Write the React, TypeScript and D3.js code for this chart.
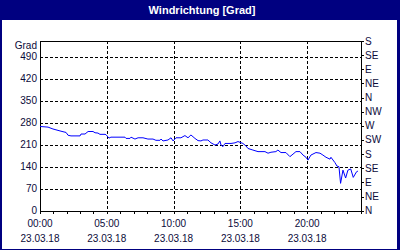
import React from "react";
import * as d3 from "d3";

const title = "Windrichtung [Grad]";
const yUnit = "Grad";
const dateLabel = "23.03.18";
const xTickHours = [0, 5, 10, 15, 20];
const yTicks = [0, 70, 140, 210, 280, 350, 420, 490];
const compassTicks = [0, 45, 90, 135, 180, 225, 270, 315, 360, 405, 450, 495, 540];
const compassLabels = ["N", "NE", "E", "SE", "S", "SW", "W", "NW", "N", "NE", "E", "SE", "S"];

const hours = [
  0, 0.6, 0.97, 1.57, 1.95, 2.1, 2.32, 3.0, 3.07, 3.37, 3.6, 3.97, 4.12, 4.34, 4.49, 4.87, 4.94,
  5.16, 5.31, 5.99, 6.36, 6.44, 6.74, 6.81, 7.11, 7.34, 7.71, 8.08, 8.46, 8.68, 8.98, 9.06, 9.21,
  9.58, 9.81, 9.96, 10.18, 10.55, 10.85, 11.08, 11.3, 11.6, 11.83, 12.05, 12.2, 12.57, 12.8, 13.1,
  13.32, 13.47, 13.55, 13.7, 13.85, 14.3, 14.6, 14.82, 15.19, 15.42, 15.57, 15.94, 16.32, 16.84,
  17.07, 17.29, 17.66, 17.81, 18.04, 18.41, 18.71, 18.94, 19.16, 19.46, 19.69, 19.91, 20.06, 20.28,
  20.66, 20.96, 21.18, 21.41, 21.71, 21.78, 22.08, 22.23, 22.38, 22.5, 22.68, 22.88, 23.05, 23.26,
  23.45, 23.7, 23.8,
];
const values = [
  268, 266, 260, 253, 249, 240, 238, 238, 244, 244, 252, 252, 248, 247, 243, 243, 242,
  231, 234, 234, 234, 230, 230, 234, 228, 232, 232, 228, 228, 224, 224, 228, 222,
  225, 232, 222, 232, 232, 239, 232, 241, 230, 223, 222, 225, 225, 216, 209,
  212, 222, 209, 204, 214, 214, 216, 220, 214, 206, 198, 193, 188, 188,
  183, 186, 188, 193, 185, 185, 172, 180, 188, 188, 177, 170, 161, 177,
  185, 183, 177, 170, 164, 170, 153, 142, 140, 87, 129, 104, 129, 133,
  106, 124, 126,
];

const W = 400;
const H = 250;
const m = { left: 40, top: 41, right: 360.6, bottom: 210.7 };
const navy = "#000080";
const textColor = "#0b0b3a";
const font = "'Liberation Sans', Arial, sans-serif";

export default function App() {
  const x = d3.scaleLinear().domain([0, 24]).range([m.left, m.right]);
  const y = d3.scaleLinear().domain([0, 540]).range([m.bottom, m.top]);
  const line = d3
    .line<number>()
    .x((_, i) => x(hours[i]))
    .y((v) => y(v));
  const hourTicks = d3.range(0, 25);
  const px = (v: number) => Math.round(v) + 0.5;

  return (
    <svg
      width={W}
      height={H}
      style={{ position: "absolute", left: 0, top: 0, display: "block" }}
      fontFamily={font}
    >
      <rect x={0} y={0} width={W} height={H} fill={navy} />
      <rect x={2} y={20} width={W - 5} height={H - 21} fill="#ffffff" />
      <text
        x={202}
        y={13.5}
        fill="#ffffff"
        fontSize={11}
        fontWeight="bold"
        textAnchor="middle"
      >
        {title}
      </text>

      {/* grid */}
      {yTicks.filter((t) => t > 0).map((t) => (
        <line
          key={"gy" + t}
          x1={m.left}
          x2={m.right}
          y1={px(y(t))}
          y2={px(y(t))}
          stroke="#000"
          strokeDasharray="3,2"
          shapeRendering="crispEdges"
        />
      ))}
      {xTickHours.filter((h) => h > 0).map((h) => (
        <line
          key={"gx" + h}
          x1={px(x(h))}
          x2={px(x(h))}
          y1={m.top}
          y2={m.bottom}
          stroke="#000"
          strokeDasharray="3,2"
          shapeRendering="crispEdges"
        />
      ))}

      {/* frame */}
      <rect
        x={px(m.left)}
        y={px(m.top)}
        width={Math.round(m.right) - Math.round(m.left)}
        height={Math.round(m.bottom) - Math.round(m.top)}
        fill="none"
        stroke="#000"
        shapeRendering="crispEdges"
      />

      {/* hourly ticks */}
      {hourTicks.map((h) => (
        <line
          key={"ht" + h}
          x1={px(x(h))}
          x2={px(x(h))}
          y1={Math.round(m.bottom)}
          y2={Math.round(m.bottom) + 3}
          stroke="#000"
          shapeRendering="crispEdges"
        />
      ))}

      {/* right compass ticks */}
      {compassTicks.map((t, i) => (
        <g key={"ct" + i}>
          <line
            x1={Math.round(m.right)}
            x2={Math.round(m.right) + 3}
            y1={px(y(t))}
            y2={px(y(t))}
            stroke="#000"
            shapeRendering="crispEdges"
          />
          <text x={365} y={y(t) + 3.5} fontSize={10} fill={textColor}>
            {compassLabels[i]}
          </text>
        </g>
      ))}

      {/* left labels */}
      {yTicks.map((t) => (
        <text
          key={"yl" + t}
          x={37}
          y={y(t) + 3.5}
          fontSize={10}
          fill={textColor}
          textAnchor="end"
        >
          {t}
        </text>
      ))}
      <text x={37} y={48.5} fontSize={10} fill={textColor} textAnchor="end">
        {yUnit}
      </text>

      {/* x labels */}
      {xTickHours.map((h) => (
        <g key={"xl" + h}>
          <text x={x(h)} y={226.5} fontSize={10} fill={textColor} textAnchor="middle">
            {String(h).padStart(2, "0") + ":00"}
          </text>
          <text x={x(h)} y={241.5} fontSize={10} fill={textColor} textAnchor="middle">
            {dateLabel}
          </text>
        </g>
      ))}

      {/* data */}
      <path d={line(values) || ""} fill="none" stroke="#0000ff" strokeWidth={1} />
    </svg>
  );
}
